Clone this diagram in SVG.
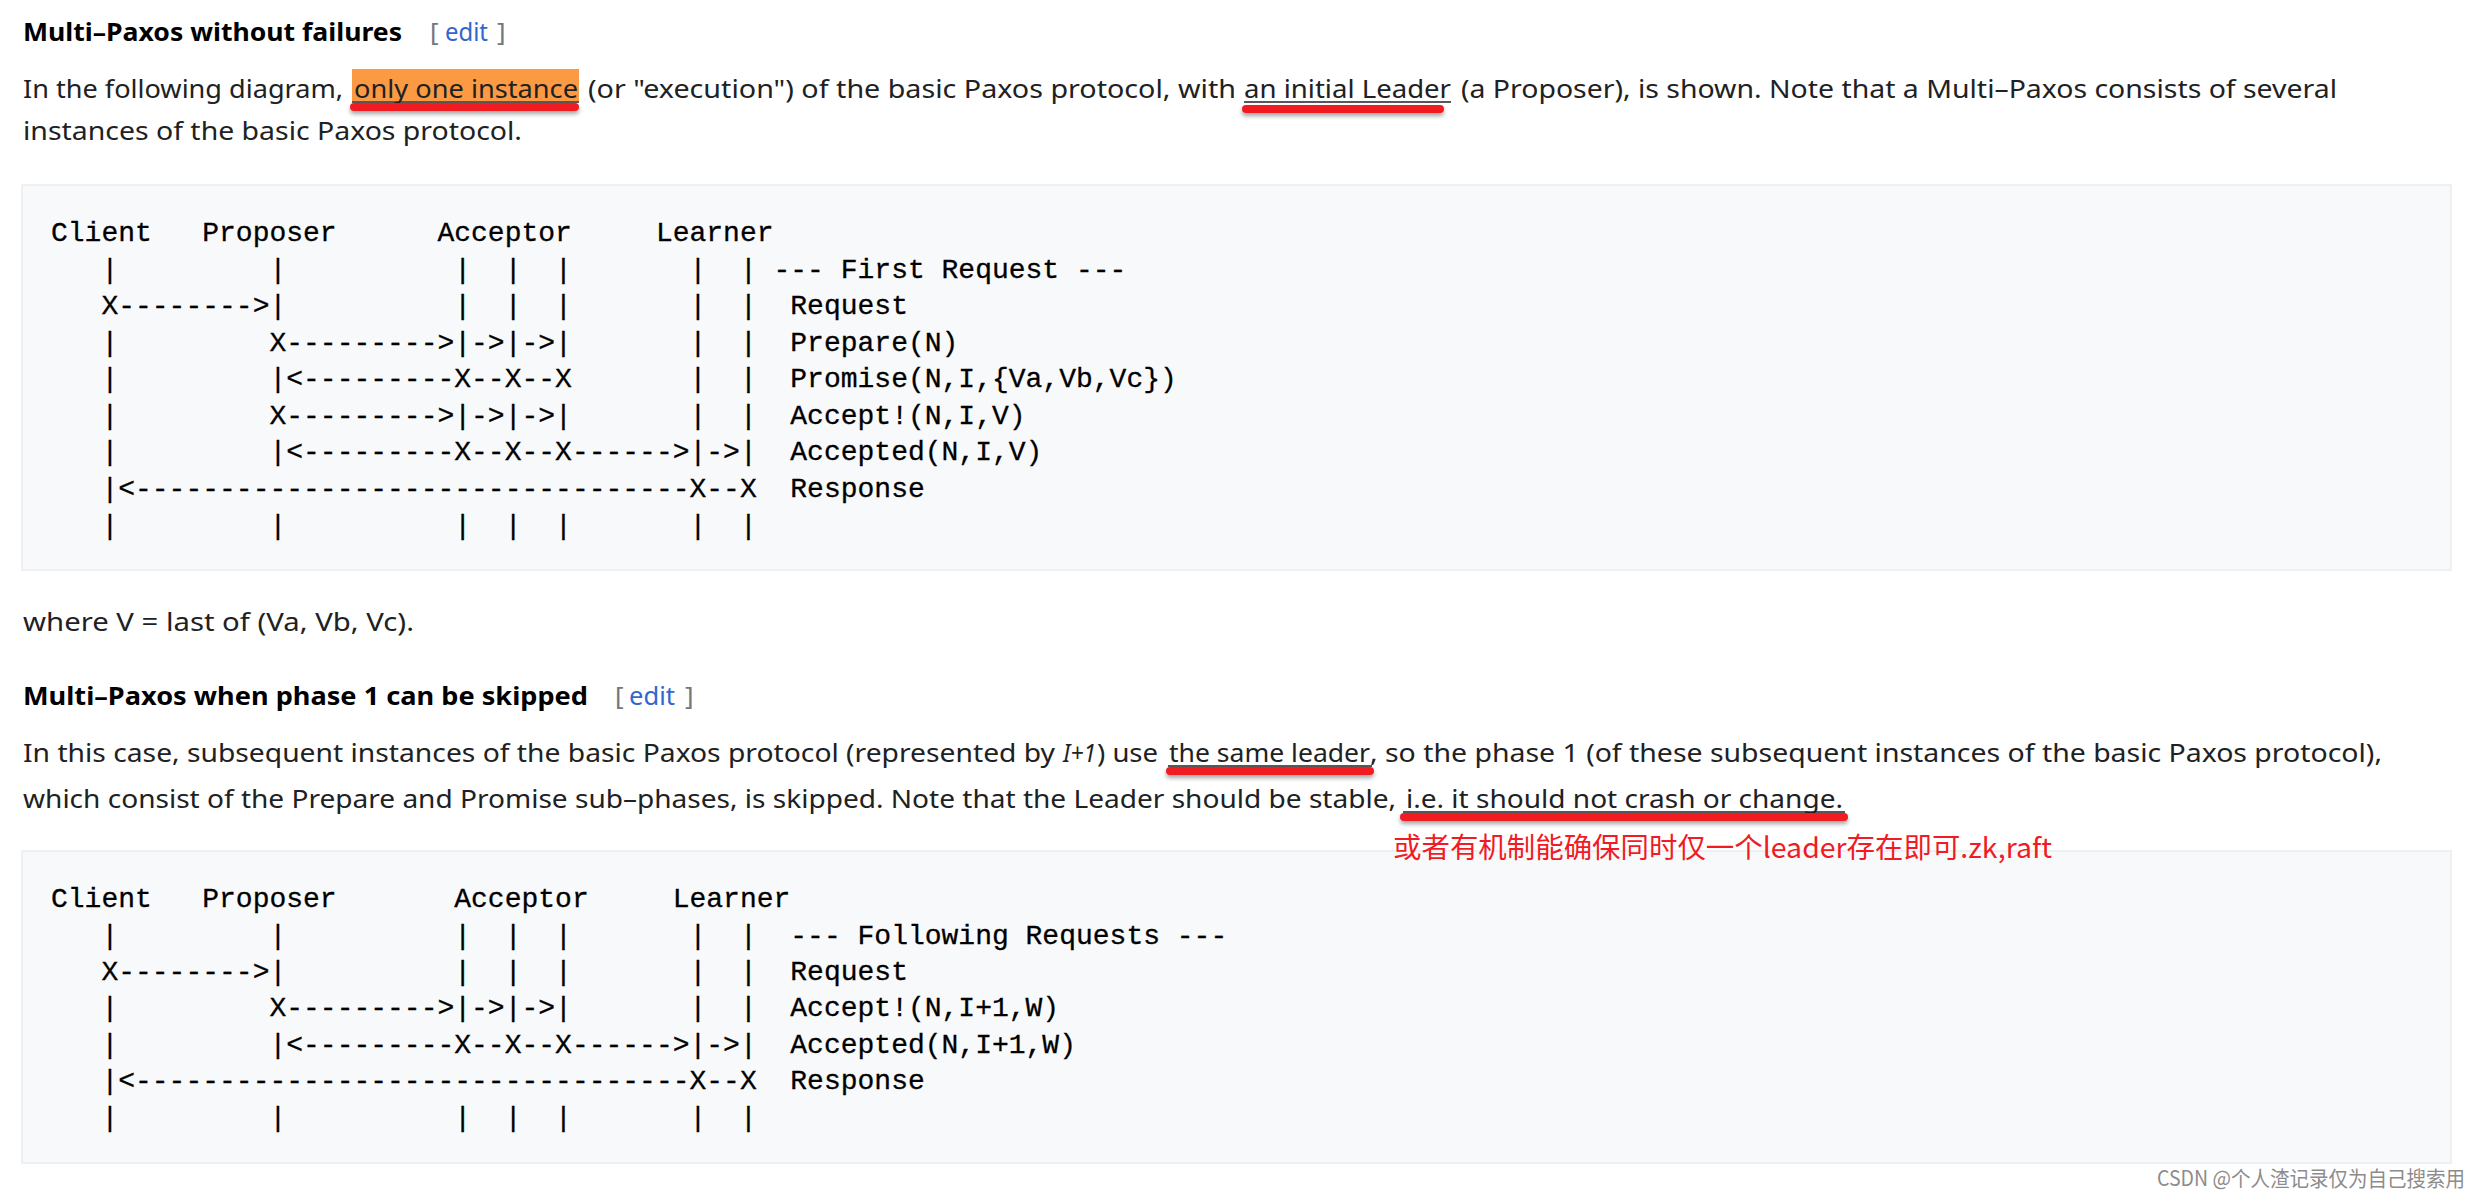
<svg xmlns="http://www.w3.org/2000/svg" width="2480" height="1200" viewBox="0 0 2480 1200">
<style>
.h{font-family:"Noto Sans","Liberation Sans",sans-serif;font-weight:bold;font-size:25px;fill:#000}
.b{font-family:"Noto Sans","Liberation Sans",sans-serif;font-size:26px;fill:#202122}
.br{font-family:"Noto Sans","Liberation Sans",sans-serif;font-size:26px;fill:#72777d}
.ed{font-family:"Noto Sans","Liberation Sans",sans-serif;font-size:26px;fill:#3366cc}
.m{font-family:"Liberation Mono","DejaVu Sans Mono",monospace;font-size:28px;fill:#000;stroke:#000;stroke-width:0.3}
.pre{fill:#f8f9fa;stroke:#eaecf0;stroke-width:1.5}
.ul{stroke:#202122;stroke-width:1.6}
.red{fill:#f01b24}
.cn{font-family:"Noto Sans CJK SC",sans-serif;font-size:28px;fill:#f01b24}
.wm{font-family:"Noto Sans CJK SC",sans-serif;font-size:21px;fill:#8c8c8c}
</style>
<defs>
<filter id="sh" x="-5%" y="-100%" width="110%" height="400%">
<feDropShadow dx="0" dy="3" stdDeviation="2" flood-color="#000" flood-opacity="0.35"/>
</filter>
</defs>
<rect width="2480" height="1200" fill="#fff"/>

<g id="section1">
<text class="h" x="23" y="41" textLength="379" lengthAdjust="spacingAndGlyphs">Multi–Paxos without failures</text>
<text class="br" x="430" y="41">[</text>
<text class="ed" x="445" y="41" textLength="43" lengthAdjust="spacingAndGlyphs">edit</text>
<text class="br" x="497" y="41">]</text>

<rect x="352" y="69" width="227" height="32" fill="#fc9a44"/>
<text class="b" x="23" y="98" textLength="320" lengthAdjust="spacingAndGlyphs">In the following diagram,</text>
<text class="b" x="354" y="98" textLength="224" lengthAdjust="spacingAndGlyphs">only one instance</text>
<text class="b" x="588" y="98" textLength="648" lengthAdjust="spacingAndGlyphs">(or "execution") of the basic Paxos protocol, with</text>
<text class="b" x="1244" y="98" textLength="207" lengthAdjust="spacingAndGlyphs">an initial Leader</text>
<text class="b" x="1461" y="98" textLength="876" lengthAdjust="spacingAndGlyphs">(a Proposer), is shown. Note that a Multi–Paxos consists of several</text>
<line class="ul" x1="352" y1="102" x2="579" y2="102"/>
<line class="ul" x1="1244" y1="102" x2="1451" y2="102"/>
<rect class="red" filter="url(#sh)" x="350" y="103" width="229" height="8" rx="4"/>
<rect class="red" filter="url(#sh)" x="1242" y="105" width="202" height="8" rx="4"/>
<text class="b" x="23" y="140" textLength="499" lengthAdjust="spacingAndGlyphs">instances of the basic Paxos protocol.</text>
</g>

<g id="diagram1">
<rect class="pre" x="22" y="185" width="2429" height="385"/>
<text class="m" x="51" y="241" xml:space="preserve">Client   Proposer      Acceptor     Learner</text>
<text class="m" x="51" y="277.6" xml:space="preserve">   |         |          |  |  |       |  | --- First Request ---</text>
<text class="m" x="51" y="314.1" xml:space="preserve">   X-------->|          |  |  |       |  |  Request</text>
<text class="m" x="51" y="350.7" xml:space="preserve">   |         X--------->|->|->|       |  |  Prepare(N)</text>
<text class="m" x="51" y="387.3" xml:space="preserve">   |         |&lt;---------X--X--X       |  |  Promise(N,I,{Va,Vb,Vc})</text>
<text class="m" x="51" y="423.9" xml:space="preserve">   |         X--------->|->|->|       |  |  Accept!(N,I,V)</text>
<text class="m" x="51" y="460.4" xml:space="preserve">   |         |&lt;---------X--X--X------>|->|  Accepted(N,I,V)</text>
<text class="m" x="51" y="497" xml:space="preserve">   |&lt;---------------------------------X--X  Response</text>
<text class="m" x="51" y="533.6" xml:space="preserve">   |         |          |  |  |       |  |</text>
</g>

<g id="section2">
<text class="b" x="23" y="631" textLength="391" lengthAdjust="spacingAndGlyphs">where V = last of (Va, Vb, Vc).</text>
<text class="h" x="23" y="705" textLength="565" lengthAdjust="spacingAndGlyphs">Multi–Paxos when phase 1 can be skipped</text>
<text class="br" x="615" y="705">[</text>
<text class="ed" x="629" y="705" textLength="46" lengthAdjust="spacingAndGlyphs">edit</text>
<text class="br" x="685" y="705">]</text>
<text class="b" x="23" y="762" textLength="1032" lengthAdjust="spacingAndGlyphs">In this case, subsequent instances of the basic Paxos protocol (represented by</text>
<text class="b" x="1063" y="762" textLength="33" lengthAdjust="spacingAndGlyphs" font-style="italic">I+1</text>
<text class="b" x="1097" y="762" textLength="61" lengthAdjust="spacingAndGlyphs">) use</text>
<text class="b" x="1169" y="762" textLength="201" lengthAdjust="spacingAndGlyphs">the same leader</text>
<text class="b" x="1370" y="762" textLength="1012" lengthAdjust="spacingAndGlyphs">, so the phase 1 (of these subsequent instances of the basic Paxos protocol),</text>
<line class="ul" x1="1168" y1="766" x2="1372" y2="766"/>
<rect class="red" filter="url(#sh)" x="1166" y="767" width="208" height="8" rx="4"/>
<text class="b" x="23" y="808" textLength="1373" lengthAdjust="spacingAndGlyphs">which consist of the Prepare and Promise sub–phases, is skipped. Note that the Leader should be stable,</text>
<text class="b" x="1406" y="808" textLength="437" lengthAdjust="spacingAndGlyphs">i.e. it should not crash or change.</text>
<line class="ul" x1="1403" y1="812" x2="1845" y2="812"/>
<rect class="red" filter="url(#sh)" x="1400" y="813" width="448" height="8" rx="4"/>
</g>

<g id="diagram2">
<rect class="pre" x="22" y="851" width="2429" height="312"/>
<text class="m" x="51" y="907" xml:space="preserve">Client   Proposer       Acceptor     Learner</text>
<text class="m" x="51" y="943.5" xml:space="preserve">   |         |          |  |  |       |  |  --- Following Requests ---</text>
<text class="m" x="51" y="979.9" xml:space="preserve">   X-------->|          |  |  |       |  |  Request</text>
<text class="m" x="51" y="1016.4" xml:space="preserve">   |         X--------->|->|->|       |  |  Accept!(N,I+1,W)</text>
<text class="m" x="51" y="1052.8" xml:space="preserve">   |         |&lt;---------X--X--X------>|->|  Accepted(N,I+1,W)</text>
<text class="m" x="51" y="1089.3" xml:space="preserve">   |&lt;---------------------------------X--X  Response</text>
<text class="m" x="51" y="1125.7" xml:space="preserve">   |         |          |  |  |       |  |</text>
</g>

<g id="annotation">
<text class="cn" x="1393" y="858" textLength="659" lengthAdjust="spacingAndGlyphs">或者有机制能确保同时仅一个leader存在即可.zk,raft</text>
</g>

<g id="watermark">
<text class="wm" x="2157" y="1186" textLength="308" lengthAdjust="spacingAndGlyphs">CSDN @个人渣记录仅为自己搜索用</text>
</g>
</svg>
